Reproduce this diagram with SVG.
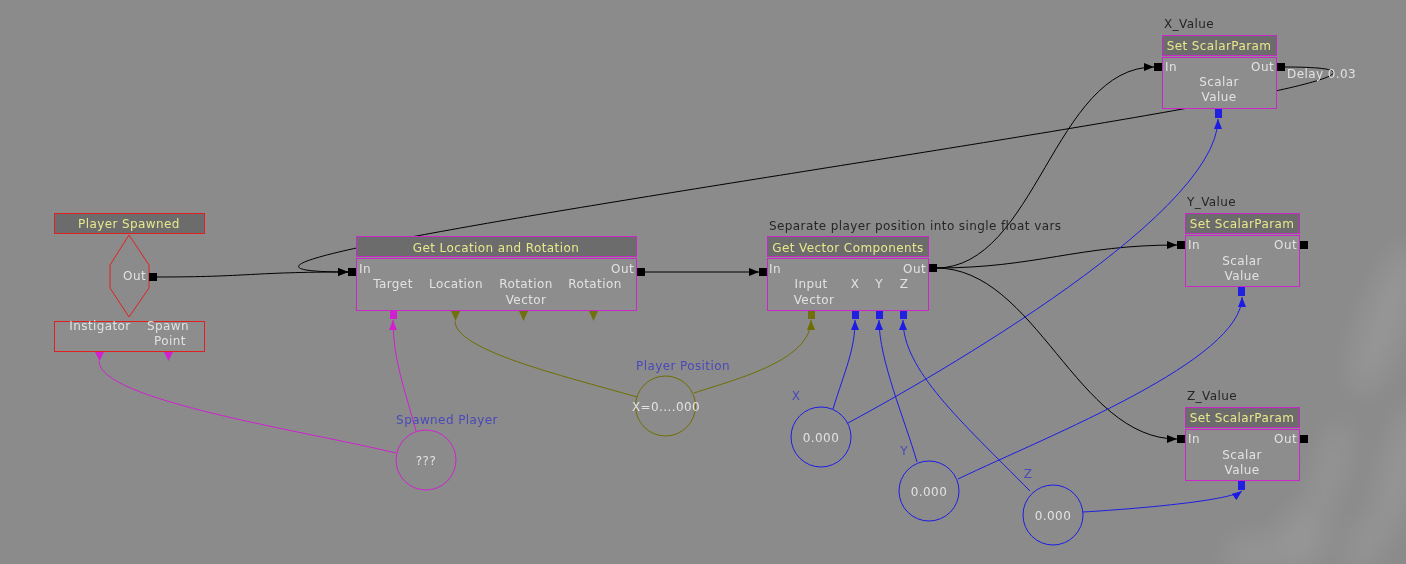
<svg xmlns="http://www.w3.org/2000/svg" width="1406" height="564" viewBox="0 0 1406 564">
<style>
text{font-family:"DejaVu Sans","Liberation Sans",sans-serif;font-size:12px;letter-spacing:0.4px}
.tt{fill:#e8e88c;text-anchor:middle}
.lb{fill:#e2e2e2}
.c{text-anchor:middle}
.r{text-anchor:end}
.dk{fill:#262626}
.vl{fill:#4a4ab8}
.ttl{fill:#6c6c6c;stroke:#c828c8;stroke-width:1}
.bdy{fill:#8d8d8d;stroke:#c828c8;stroke-width:1}
.ttlr{fill:#6c6c6c;stroke:#e02020;stroke-width:1}
.bdyr{fill:#8d8d8d;stroke:#e02020;stroke-width:1}
.pin{fill:#000}
.bp{fill:#2020e0}
.mp{fill:#d020d0}
.op{fill:#707010}
.k{fill:none;stroke:#000;stroke-width:1}
.b{fill:none;stroke:#1c1ce6;stroke-width:1}
.m{fill:none;stroke:#d020d0;stroke-width:1}
.o{fill:none;stroke:#6e6e00;stroke-width:1}
</style>
<defs>
<marker id="ak" viewBox="0 0 10 8" refX="10" refY="4" markerWidth="10" markerHeight="8" markerUnits="userSpaceOnUse" orient="auto"><path d="M0,0 L10,4 L0,8 z" fill="#000"/></marker>
<marker id="ab" viewBox="0 0 10 8" refX="10" refY="4" markerWidth="10" markerHeight="8" markerUnits="userSpaceOnUse" orient="auto"><path d="M0,0 L10,4 L0,8 z" fill="#1c1ce6"/></marker>
<marker id="am" viewBox="0 0 10 8" refX="10" refY="4" markerWidth="10" markerHeight="8" markerUnits="userSpaceOnUse" orient="auto"><path d="M0,0 L10,4 L0,8 z" fill="#d020d0"/></marker>
<marker id="ao" viewBox="0 0 10 8" refX="10" refY="4" markerWidth="10" markerHeight="8" markerUnits="userSpaceOnUse" orient="auto"><path d="M0,0 L10,4 L0,8 z" fill="#6e6e00"/></marker>
<filter id="blur" x="-100%" y="-100%" width="300%" height="300%"><feGaussianBlur stdDeviation="14"/></filter>
</defs>
<rect width="1406" height="564" fill="#8b8b8b"/>
<g filter="url(#blur)" fill="#ffffff" opacity="0.1">
<ellipse cx="1385" cy="320" rx="22" ry="80" transform="rotate(20 1385 320)"/>
<ellipse cx="1400" cy="470" rx="18" ry="70" transform="rotate(15 1400 470)"/>
<ellipse cx="1330" cy="470" rx="14" ry="50" transform="rotate(15 1330 470)"/>
<ellipse cx="1300" cy="540" rx="25" ry="35" transform="rotate(25 1300 540)"/>
<ellipse cx="1365" cy="545" rx="15" ry="30" transform="rotate(20 1365 545)"/>
<ellipse cx="1250" cy="555" rx="25" ry="18"/>
</g>

<g id="connectors">
<path class="k" d="M157,277 C250,277 250,272 348,272" marker-end="url(#ak)"/>
<path class="k" d="M1284,67 C1634,67 -2,272 348,272" marker-end="url(#ak)"/>
<path class="k" d="M644,272 L759,272" marker-end="url(#ak)"/>
<path class="k" d="M936,268 C1036,268 1054,67 1154,67" marker-end="url(#ak)"/>
<path class="k" d="M936,268 C1036,268 1077,245 1177,245" marker-end="url(#ak)"/>
<path class="k" d="M936,268 C1036,268 1077,439 1177,439" marker-end="url(#ak)"/>
<path class="m" d="M416,431 C405,390 393,360 393,320" marker-end="url(#am)"/>
<path class="m" d="M396,453 C300,430 99,400 99,361"/>
<path class="o" d="M637,397 C560,375 455,350 455,321"/>
<path class="o" d="M694,393 C740,378 811,360 811,320" marker-end="url(#ao)"/>
<path class="b" d="M833,409 C845,370 855,350 855,320" marker-end="url(#ab)"/>
<path class="b" d="M848,423 C900,395 1218,220 1218,119" marker-end="url(#ab)"/>
<path class="b" d="M917,462 C905,420 879,360 879,320" marker-end="url(#ab)"/>
<path class="b" d="M958,479 C1050,435 1242,360 1242,297" marker-end="url(#ab)"/>
<path class="b" d="M1030,491 C960,420 903,370 903,320" marker-end="url(#ab)"/>
<path class="b" d="M1083,512 C1150,508 1230,500 1242,491" marker-end="url(#ab)"/>
</g>

<g id="player-spawned">
<rect class="ttlr" x="54.5" y="213.5" width="150" height="20"/>
<text class="tt" x="129" y="228">Player Spawned</text>
<path d="M129,235 L110,265 L110,288 L129,317 L149,288 L149,265 Z" fill="none" stroke="#e02020" stroke-width="1"/>
<text class="lb r" x="146" y="280">Out</text>
<rect class="pin" x="149" y="273" width="8" height="8"/>
<rect class="bdyr" x="54.5" y="321.5" width="150" height="30"/>
<text class="lb c" x="100" y="330">Instigator</text>
<text class="lb c" x="168" y="330">Spawn</text>
<text class="lb c" x="170" y="345">Point</text>
<path class="mp" d="M95,352 L104,352 L99.5,361 Z"/>
<path class="mp" d="M164,352 L173,352 L168.5,361 Z"/>
</g>

<g id="get-location">
<rect class="ttl" x="356.5" y="236.5" width="280" height="20"/>
<text class="tt" x="496" y="252">Get Location and Rotation</text>
<rect class="bdy" x="356.5" y="258.5" width="280" height="52"/>
<rect class="pin" x="348" y="268" width="8" height="8"/>
<rect class="pin" x="637" y="268" width="8" height="8"/>
<text class="lb" x="359" y="273">In</text>
<text class="lb r" x="634" y="273">Out</text>
<text class="lb c" x="393" y="288">Target</text>
<text class="lb c" x="456" y="288">Location</text>
<text class="lb c" x="526" y="288">Rotation</text>
<text class="lb c" x="526" y="304">Vector</text>
<text class="lb c" x="595" y="288">Rotation</text>
<rect class="mp" x="390" y="311" width="7" height="8"/>
<path class="op" d="M451,311 L460,311 L455.5,321 Z"/>
<path class="op" d="M519,311 L528,311 L523.5,321 Z"/>
<path class="op" d="M589,311 L598,311 L593.5,321 Z"/>
</g>

<g id="get-vector">
<text class="dk" x="769" y="230">Separate player position into single float vars</text>
<rect class="ttl" x="767.5" y="236.5" width="161" height="20"/>
<text class="tt" x="848" y="252">Get Vector Components</text>
<rect class="bdy" x="767.5" y="258.5" width="161" height="52"/>
<rect class="pin" x="759" y="268" width="8" height="8"/>
<rect class="pin" x="929" y="264" width="8" height="8"/>
<text class="lb" x="769" y="273">In</text>
<text class="lb r" x="926" y="273">Out</text>
<text class="lb c" x="811" y="288">Input</text>
<text class="lb c" x="814" y="304">Vector</text>
<text class="lb c" x="855" y="288">X</text>
<text class="lb c" x="879" y="288">Y</text>
<text class="lb c" x="904" y="288">Z</text>
<rect class="op" x="808" y="311" width="7" height="8"/>
<rect class="bp" x="852" y="311" width="7" height="8"/>
<rect class="bp" x="876" y="311" width="7" height="8"/>
<rect class="bp" x="900" y="311" width="7" height="8"/>
</g>

<g id="x-value">
<text class="dk" x="1164" y="28">X_Value</text>
<rect class="ttl" x="1162.5" y="35.5" width="114" height="20"/>
<text class="tt" x="1219" y="50">Set ScalarParam</text>
<rect class="bdy" x="1162.5" y="57.5" width="114" height="51"/>
<rect class="pin" x="1154" y="63" width="8" height="8"/>
<rect class="pin" x="1277" y="63" width="8" height="8"/>
<text class="lb" x="1165" y="71">In</text>
<text class="lb r" x="1274" y="71">Out</text>
<text class="lb c" x="1219" y="86">Scalar</text>
<text class="lb c" x="1219" y="101">Value</text>
<text class="lb" x="1287" y="78">Delay 0.03</text>
<rect class="bp" x="1215" y="109" width="7" height="9"/>
</g>

<g id="y-value">
<text class="dk" x="1187" y="206">Y_Value</text>
<rect class="ttl" x="1185.5" y="213.5" width="114" height="20"/>
<text class="tt" x="1242" y="228">Set ScalarParam</text>
<rect class="bdy" x="1185.5" y="235.5" width="114" height="51"/>
<rect class="pin" x="1177" y="241" width="8" height="8"/>
<rect class="pin" x="1300" y="241" width="8" height="8"/>
<text class="lb" x="1188" y="249">In</text>
<text class="lb r" x="1297" y="249">Out</text>
<text class="lb c" x="1242" y="265">Scalar</text>
<text class="lb c" x="1242" y="280">Value</text>
<rect class="bp" x="1238" y="287" width="7" height="9"/>
</g>

<g id="z-value">
<text class="dk" x="1187" y="400">Z_Value</text>
<rect class="ttl" x="1185.5" y="407.5" width="114" height="20"/>
<text class="tt" x="1242" y="422">Set ScalarParam</text>
<rect class="bdy" x="1185.5" y="429.5" width="114" height="51"/>
<rect class="pin" x="1177" y="435" width="8" height="8"/>
<rect class="pin" x="1300" y="435" width="8" height="8"/>
<text class="lb" x="1188" y="443">In</text>
<text class="lb r" x="1297" y="443">Out</text>
<text class="lb c" x="1242" y="459">Scalar</text>
<text class="lb c" x="1242" y="474">Value</text>
<rect class="bp" x="1238" y="481" width="7" height="9"/>
</g>

<g id="var-spawned-player">
<text class="vl c" x="447" y="424">Spawned Player</text>
<circle cx="426" cy="460" r="30" fill="none" stroke="#d020d0"/>
<text class="lb c" x="426" y="465">???</text>
</g>

<g id="var-player-position">
<text class="vl c" x="683" y="370">Player Position</text>
<circle cx="665.5" cy="406" r="30" fill="none" stroke="#6e6e00"/>
<text class="lb c" x="666" y="411">X=0....000</text>
</g>

<g id="var-x">
<text class="vl c" x="796" y="400">X</text>
<circle cx="821" cy="437" r="30" fill="none" stroke="#1c1ce6"/>
<text class="lb c" x="821" y="442">0.000</text>
</g>

<g id="var-y">
<text class="vl c" x="904" y="455">Y</text>
<circle cx="929" cy="491" r="30" fill="none" stroke="#1c1ce6"/>
<text class="lb c" x="929" y="496">0.000</text>
</g>

<g id="var-z">
<text class="vl c" x="1028" y="478">Z</text>
<circle cx="1053" cy="515" r="30" fill="none" stroke="#1c1ce6"/>
<text class="lb c" x="1053" y="520">0.000</text>
</g>
</svg>
